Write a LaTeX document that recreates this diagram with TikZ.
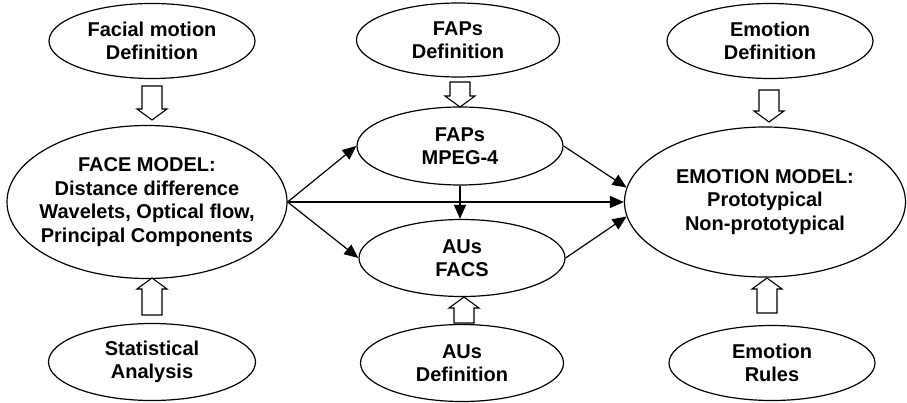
\documentclass[tikz,border=0pt]{standalone}
\usepackage{fontspec}
\setmainfont{Liberation Sans}
\usetikzlibrary{calc,shapes.geometric,arrows.meta}

% hollow block arrow from #1 (tail) to #2 (tip)
\newcommand{\hollowarrow}[2]{%
\draw[line width=1.1pt, fill=white, line join=miter]
  ($(#1)!10pt!90:(#2)$) -- ($(#2)!11pt!(#1)!10pt!-90:(#1)$) -- ($(#2)!11pt!(#1)!15pt!-90:(#1)$)
  -- (#2) -- ($(#2)!11pt!(#1)!15pt!90:(#1)$) -- ($(#2)!11pt!(#1)!10pt!90:(#1)$)
  -- ($(#1)!10pt!-90:(#2)$) -- cycle;}

\begin{document}
\begin{tikzpicture}[x=1pt,y=1pt,
  oval/.style={draw, ellipse, line width=1.2pt, inner xsep=-25pt, inner ysep=-10pt, align=center,
    font=\fontsize{20}{23.5}\selectfont\bfseries},
  link/.style={line width=1.2pt, -{Triangle[length=14pt,width=12pt]}}]
\useasboundingbox (0,0) rectangle (907,402);
% left column
\node[oval, minimum width=206, minimum height=75] (fmd) at (152,361) {Facial motion\\Definition};
\node[oval, minimum width=280, minimum height=153] (face) at (147,200) {FACE MODEL:\\Distance difference\\Wavelets, Optical flow,\\Principal Components};
\node[oval, minimum width=207, minimum height=77] (stat) at (152,40) {Statistical\\Analysis};
% middle column
\node[oval, minimum width=203, minimum height=74] (fapd) at (458,362) {FAPs\\Definition};
\node[oval, minimum width=206, minimum height=78] (faps) at (460,256) {FAPs\\MPEG-4};
\node[oval, minimum width=206, minimum height=77] (aus) at (462,144) {AUs\\FACS};
\node[oval, minimum width=203, minimum height=77] (ausd) at (462,39) {AUs\\Definition};
% right column
\node[oval, minimum width=206, minimum height=75] (emod) at (770,361) {Emotion\\Definition};
\node[oval, minimum width=281, minimum height=150] (emo) at (765,200) {EMOTION MODEL:\\Prototypical\\Non-prototypical};
\node[oval, minimum width=206, minimum height=75] (emor) at (772,39) {Emotion\\Rules};
% block arrows
\coordinate (fm1) at (152,316); \coordinate (fm2) at (152,282); \hollowarrow{fm1}{fm2}
\coordinate (st1) at (152,87);  \coordinate (st2) at (152,124); \hollowarrow{st1}{st2}
\coordinate (fp1) at (460,320); \coordinate (fp2) at (460,295); \hollowarrow{fp1}{fp2}
\coordinate (au1) at (464,79);  \coordinate (au2) at (464,105); \hollowarrow{au1}{au2}
\coordinate (em1) at (769,312); \coordinate (em2) at (769,280); \hollowarrow{em1}{em2}
\coordinate (er1) at (767,89);  \coordinate (er2) at (767,124); \hollowarrow{er1}{er2}
% links
\draw[link] (face.east) -- (faps.west);
\draw[link] (face.east) -- (emo.west);
\draw[link] (face.east) -- (aus.west);
\draw[link] (faps.east) -- (emo.174);
\draw[link] (aus.east) -- (emo.186);
\draw[link] (faps.south) -- (faps.south |- aus.north);
\end{tikzpicture}
\end{document}
